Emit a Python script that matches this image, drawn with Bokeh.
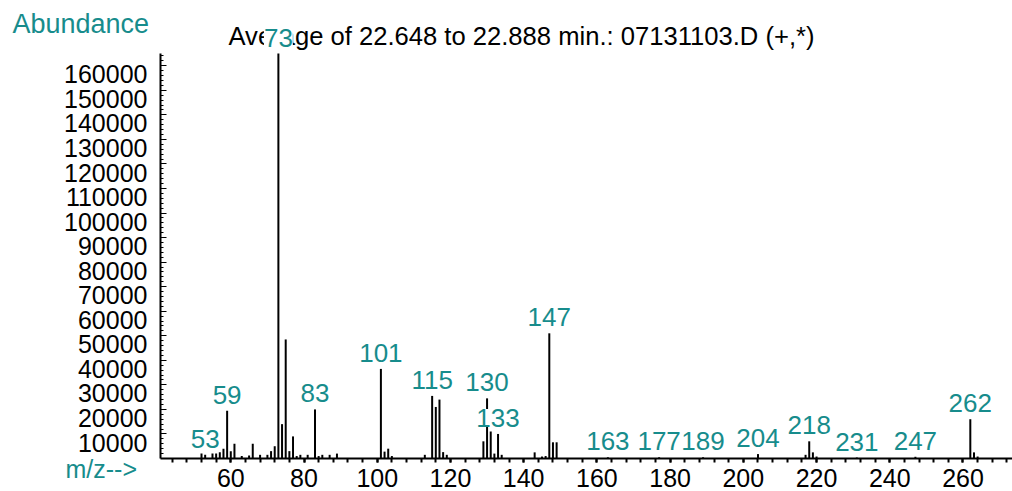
from bokeh.plotting import figure
from bokeh.models import (FixedTicker, ColumnDataSource, LabelSet, Label, Range1d,
                          LinearAxis, CustomJSTickFormatter)
from bokeh.core.properties import value
from bokeh.embed import file_html
from bokeh.resources import INLINE

# ---- data ----
mz = [52, 53, 55, 56, 57, 58, 59, 60, 61, 63, 65, 66, 68, 70, 71, 72, 73, 74, 75, 76,
      77, 78, 79, 81, 83, 84, 85, 87, 89, 101, 102, 103, 104, 113, 115, 116, 117, 118,
      119, 129, 130, 131, 132, 133, 134, 143, 145, 146, 147, 148, 149, 163, 177, 189,
      204, 217, 218, 219, 220, 231, 247, 262, 263, 264]
abundance = [2000, 1500, 2000, 2000, 2500, 4000, 19500, 3000, 6000, 1000, 1200, 6000, 1500,
             1500, 3000, 5000, 165000, 14000, 48500, 3000, 9000, 1000, 1500, 1500, 20000,
             1000, 1500, 1500, 2000, 36500, 2800, 4000, 1000, 1500, 25500, 21000, 24000,
             2600, 1500, 7000, 24500, 11000, 2000, 10000, 1500, 2500, 800, 1000, 51000,
             6600, 6600, 500, 500, 500, 1800, 1500, 7000, 2500, 800, 400, 700, 16000,
             2500, 800]
label_mz = [53, 59, 73, 83, 101, 115, 130, 133, 147, 163, 177, 189, 204, 218, 231, 247, 262]
x_tick_values = [60, 80, 100, 120, 140, 160, 180, 200, 220, 240, 260]
x_minor_values = list(range(44, 273, 4))
y_tick_values = [10000, 20000, 30000, 40000, 50000, 60000, 70000, 80000, 90000, 100000,
                 110000, 120000, 130000, 140000, 150000, 160000]
y_minor_values = list(range(2000, 164001, 2000))
title_text = "Average of 22.648 to 22.888 min.: 07131103.D (+,*)"
y_title = "Abundance"
x_title = "m/z-->"

TEAL = "#178c8c"
FONT = "Liberation Sans"

# ---- layout constants (axis extents inside a full-canvas frame) ----
X_AXIS_START, X_AXIS_END = 40.8, 273.5
Y_AXIS_END = 165000
LABEL_DROP = 3500   # y tick labels hang below their ticks, as in the original

abund_of = dict(zip(mz, abundance))
label_abund = [abund_of[m] for m in label_mz]

W, H = 1012, 491
px_x = 3.661                      # pixels per m/z unit
px_y = 405 / Y_AXIS_END           # pixels per abundance unit
x0 = X_AXIS_START - 160 / px_x
y0 = -(H - 458) / px_y

p = figure(width=W, height=H, output_backend="svg", toolbar_location=None,
           x_range=Range1d(x0, x0 + W / px_x), y_range=Range1d(y0, y0 + H / px_y),
           min_border=0, min_border_left=0, min_border_right=0,
           min_border_top=0, min_border_bottom=0)
p.outline_line_color = None
p.grid.visible = False
p.background_fill_color = "white"
p.border_fill_color = "white"

src = ColumnDataSource(dict(mz=mz, abundance=abundance))
p.segment(x0="mz", y0=0, x1="mz", y1="abundance", source=src,
          line_color="black", line_width=2)

# x axis (drawn at abundance 0)
xa = p.xaxis[0]
xa.fixed_location = 0
xa.bounds = (X_AXIS_START, X_AXIS_END)
xa.ticker = FixedTicker(ticks=x_tick_values, minor_ticks=x_minor_values)
xa.axis_line_width = 2
xa.major_tick_out = 4
xa.major_tick_in = 0
xa.minor_tick_out = 4
xa.minor_tick_in = 0
xa.major_tick_line_width = 2
xa.minor_tick_line_width = 2
xa.major_label_standoff = 6
xa.major_label_text_font = FONT
xa.major_label_text_font_size = "25px"
xa.major_label_text_color = "black"

# y axis: line and ticks
ya = p.yaxis[0]
ya.fixed_location = X_AXIS_START
ya.bounds = (0, Y_AXIS_END)
ya.ticker = FixedTicker(ticks=y_tick_values, minor_ticks=y_minor_values)
ya.formatter = CustomJSTickFormatter(code="return ''")
ya.axis_line_width = 2
ya.major_tick_in = 6
ya.major_tick_out = 0
ya.minor_tick_in = 3
ya.minor_tick_out = 0

# y axis: labels, hanging just below each tick
yl = LinearAxis(fixed_location=X_AXIS_START, bounds=(0, Y_AXIS_END),
                ticker=FixedTicker(ticks=[v - LABEL_DROP for v in y_tick_values]),
                major_label_overrides={v - LABEL_DROP: str(v) for v in y_tick_values},
                axis_line_color=None, major_tick_line_color=None,
                minor_tick_line_color=None, major_tick_out=0, major_tick_in=0,
                major_label_standoff=13, major_label_text_font=FONT,
                major_label_text_font_size="25px", major_label_text_color="black")
p.add_layout(yl, "left")

# title and axis captions (screen units inside the full-canvas frame)
p.add_layout(Label(x=228, y=H - 35, x_units="screen", y_units="screen", text=title_text,
                   text_font=FONT, text_font_size="25.6px", text_color="black",
                   text_baseline="alphabetic", text_align="left"))
p.add_layout(Label(x=12, y=H - 23, x_units="screen", y_units="screen", text=y_title,
                   text_font=FONT, text_font_size="27px", text_color=TEAL,
                   text_baseline="alphabetic", text_align="left"))
p.add_layout(Label(x=65, y=H - 468, x_units="screen", y_units="screen", text=x_title,
                   text_font=FONT, text_font_size="25px", text_color=TEAL,
                   text_baseline="alphabetic", text_align="left"))

# peak labels
lsrc = ColumnDataSource(dict(x=label_mz, y=label_abund, t=[str(m) for m in label_mz]))
p.add_layout(LabelSet(x="x", y="y", text="t", source=lsrc, text_align="center",
                      text_baseline="bottom", y_offset=7, text_color=TEAL,
                      text_font=value(FONT), text_font_size=value("26px"),
                      background_fill_color="white"))

open("out.html", "w").write(file_html(p, INLINE))
